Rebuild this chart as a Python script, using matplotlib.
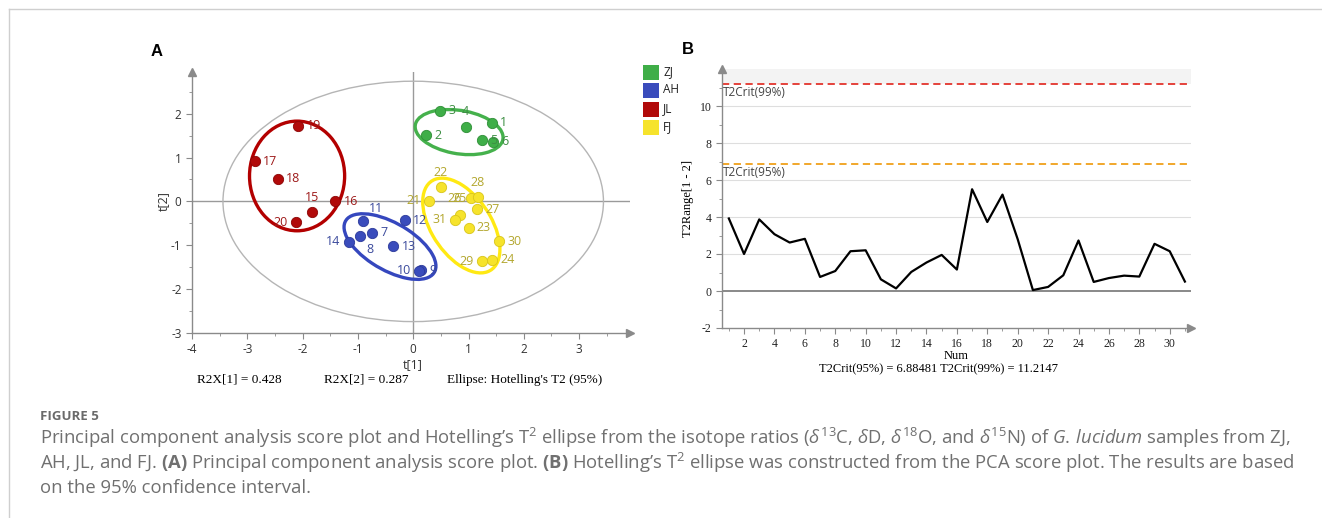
import matplotlib
matplotlib.use("Agg")
import numpy as np
import matplotlib.pyplot as plt
from matplotlib.patches import Ellipse, Rectangle
from matplotlib.lines import Line2D

# ---- data: panel A (PCA scores) ----
sample_id = list(range(1, 32))
t1 = [1.42, 0.24, 0.49, 0.95, 1.25, 1.45,
      -0.74, -0.96, 0.14, 0.11, -0.90, -0.15, -0.36, -1.16,
      -1.83, -1.41, -2.86, -2.45, -2.08, -2.12,
      0.29, 0.50, 1.00, 1.42, 1.04, 0.85, 1.15, 1.17, 1.24, 1.55, 0.75]
t2 = [1.79, 1.51, 2.07, 1.70, 1.39, 1.36,
      -0.72, -0.79, -1.57, -1.58, -0.45, -0.43, -1.02, -0.92,
      -0.25, 0.00, 0.91, 0.52, 1.73, -0.48,
      0.02, 0.32, -0.60, -1.33, 0.07, -0.30, -0.18, 0.09, -1.36, -0.91, -0.42]
group = ['ZJ'] * 6 + ['AH'] * 8 + ['JL'] * 6 + ['FJ'] * 11
groups = ['ZJ', 'AH', 'JL', 'FJ']

# group ellipses: centre x, centre y, width, height, angle
ell_cx = [0.83, -0.42, -2.10, 0.87]
ell_cy = [1.58, -1.03, 0.58, -0.55]
ell_w = [1.62, 2.0, 1.72, 2.31]
ell_h = [0.98, 1.0, 2.5, 1.13]
ell_ang = [-14, -40, 0, -66]

# Hotelling T2 (95%) ellipse of the score plot
t2_ell_w = 6.88
t2_ell_h = 5.48

r2x = [0.428, 0.287]

# ---- data: panel B (Hotelling T2 range) ----
num = list(range(1, 32))
t2range = [3.92, 2.00, 3.87, 3.07, 2.62, 2.82, 0.76, 1.08, 2.15, 2.20,
           0.63, 0.14, 1.03, 1.54, 1.95, 1.16, 5.50, 3.73, 5.21, 2.80,
           0.05, 0.22, 0.85, 2.73, 0.49, 0.70, 0.83, 0.78, 2.55, 2.15, 0.51]
t2crit95 = 6.88481
t2crit99 = 11.2147

# ---- styles ----
dot_col = {'ZJ': '#3fae48', 'AH': '#3a4cbc', 'JL': '#b10a0a', 'FJ': '#f6e32c'}
edge_col = {'ZJ': '#2f8f37', 'AH': '#2c3a9a', 'JL': '#8c0505', 'FJ': '#d9c51a'}
txt_col = {'ZJ': '#3d8e43', 'AH': '#3b4a9c', 'JL': '#9e1a1a', 'FJ': '#b3a72e'}
ring_col = {'ZJ': '#45b14c', 'AH': '#3547be', 'JL': '#b30000', 'FJ': '#ffe913'}
lab_off = {4: (0, 11, 'center'), 8: (7, -10, 'center'), 10: (-6, 0, 'right'),
           11: (9, 9, 'center'), 14: (-6, 0, 'right'), 15: (0, 11, 'center'),
           20: (-6, 0, 'right'), 21: (-6, 0, 'right'), 22: (0, 11, 'center'),
           25: (-8, 0, 'center'), 26: (-4, 11.5, 'center'), 28: (0, 11, 'center'),
           29: (-6, 0, 'right'), 31: (-6, 0, 'right')}

SANS = ['Open Sans', 'DejaVu Sans']
SERIF = ['Liberation Serif', 'DejaVu Serif']
AX_GREY = '#8a8a8a'

plt.rcParams['axes.unicode_minus'] = False
plt.rcParams['mathtext.fontset'] = 'custom'
plt.rcParams['mathtext.rm'] = 'Open Sans'
plt.rcParams['mathtext.it'] = 'Open Sans:italic'
plt.rcParams['mathtext.bf'] = 'Open Sans:bold'

W, H = 1322, 518
fig = plt.figure(figsize=(W / 100, H / 100), dpi=100)


def fx(px):
    return px / W


def fy(py):
    return 1 - py / H


def arrow_axes(ax):
    for s in ['top', 'right']:
        ax.spines[s].set_visible(False)
    for s in ['left', 'bottom']:
        ax.spines[s].set_color(AX_GREY)
        ax.spines[s].set_linewidth(1.0)
    ax.plot(1, 0, '>', color=AX_GREY, ms=6, transform=ax.transAxes, clip_on=False)
    ax.plot(0, 1, '^', color=AX_GREY, ms=6, transform=ax.transAxes, clip_on=False)
    ax.tick_params(which='both', color=AX_GREY, direction='out')
    ax.tick_params(which='major', length=4)
    ax.tick_params(which='minor', length=2)


# frame lines of the page
fig.add_artist(Line2D([fx(9), 1], [fy(9), fy(9)], color='#cfcfcf', lw=1))
fig.add_artist(Line2D([fx(9), fx(9)], [fy(9), 0], color='#cfcfcf', lw=1))

# ================= panel A =================
axA = fig.add_axes([fx(192), fy(333), fx(630) - fx(192), fy(72) - fy(333)])
arrow_axes(axA)
axA.set_xlim(-4, 3.92)
axA.set_ylim(-3, 2.95)
axA.set_xticks(range(-4, 4))
axA.set_yticks(range(-3, 3))
axA.set_xticks(np.arange(-4, 4, 0.5), minor=True)
axA.set_yticks(np.arange(-3, 3, 0.5), minor=True)
axA.tick_params(labelsize=8.5, labelcolor='#333333')
for lab in axA.get_xticklabels() + axA.get_yticklabels():
    lab.set_family(SANS)
axA.axhline(0, color='#9a9a9a', lw=1, zorder=1)
axA.axvline(0, color='#9a9a9a', lw=1, zorder=1)

axA.add_patch(Ellipse((0, 0), t2_ell_w, t2_ell_h, fill=False, ec='#b5b5b5', lw=1, zorder=1))
for i, g in enumerate(groups):
    axA.add_patch(Ellipse((ell_cx[i], ell_cy[i]), ell_w[i], ell_h[i], angle=ell_ang[i],
                          fill=False, ec=ring_col[g], lw=2.4, zorder=2))

for g in groups:
    idx = [k for k in range(len(sample_id)) if group[k] == g]
    axA.scatter([t1[k] for k in idx], [t2[k] for k in idx], s=55, color=dot_col[g],
                edgecolor=edge_col[g], lw=0.6, zorder=3)
for k, sid in enumerate(sample_id):
    dx, dy, ha = lab_off.get(sid, (6, 0, 'left'))
    axA.annotate(str(sid), (t1[k], t2[k]), xytext=(dx, dy), textcoords='offset points',
                 ha=ha, va='center', fontsize=9, color=txt_col[group[k]],
                 family=SANS, zorder=4)

fig.text(fx(413), fy(365), 't[1]', ha='center', va='center', fontsize=9,
         family=SANS, color='#333333')
fig.text(fx(163), fy(201), 't[2]', ha='center', va='center', rotation=90, fontsize=9,
         family=SANS, color='#333333')
fig.text(fx(239), fy(380), 'R2X[1] = %.3f' % r2x[0], ha='center', va='center',
         fontsize=9.5, family=SERIF)
fig.text(fx(366), fy(380), 'R2X[2] = %.3f' % r2x[1], ha='center', va='center',
         fontsize=9.5, family=SERIF)
fig.text(fx(525), fy(380), "Ellipse: Hotelling's T2 (95%)", ha='center', va='center',
         fontsize=9.5, family=SERIF)
fig.text(fx(157), fy(52), 'A', ha='center', va='center', fontsize=12,
         fontweight='bold', family=['Liberation Sans', 'DejaVu Sans'])

# legend
for i, g in enumerate(groups):
    yc = 72.5 + 18.3 * i
    fig.add_artist(Rectangle((fx(643), fy(yc + 7.5)), fx(16), 15 / H,
                             transform=fig.transFigure, color=dot_col[g], lw=0))
    fig.text(fx(663), fy(yc - 1), g, ha='left', va='center', fontsize=8.5,
             family=SANS, color='#222222')

# ================= panel B =================
axB = fig.add_axes([fx(722), fy(328), fx(1191) - fx(722), fy(69) - fy(328)])
arrow_axes(axB)
axB.set_xlim(0.55, 31.4)
axB.set_ylim(-2, 12.0)
axB.set_xticks(range(2, 31, 2))
axB.set_xticks(range(1, 32), minor=True)
axB.set_yticks(range(-2, 11, 2))
axB.set_yticks(range(-2, 12), minor=True)
axB.tick_params(labelsize=8.5, labelcolor='#222222')
for lab in axB.get_xticklabels() + axB.get_yticklabels():
    lab.set_family(SERIF)
axB.axhspan(t2crit99, 12.0, color='#f3f3f3', lw=0, zorder=0)
for yv in range(2, 11, 2):
    axB.axhline(yv, color='#dedede', lw=0.8, zorder=1)
axB.axhline(0, color='#808080', lw=1.3, zorder=1)
axB.axhline(t2crit99, color='#e3342c', lw=1.3, ls=(0, (4, 2.5)), zorder=2)
axB.axhline(t2crit95, color='#f0a01a', lw=1.3, ls=(0, (4, 2.5)), zorder=2)
axB.text(0.62, t2crit99 - 0.15, 'T2Crit(99%)', ha='left', va='top', fontsize=8.5,
         family=SANS, color='#444444')
axB.text(0.62, t2crit95 - 0.15, 'T2Crit(95%)', ha='left', va='top', fontsize=8.5,
         family=SANS, color='#444444')
axB.plot(num, t2range, color='black', lw=1.6, zorder=3)

axB.set_xlabel('Num', family=SERIF, fontsize=9, labelpad=0)
axB.set_ylabel('T2Range[1 - 2]', family=SERIF, fontsize=9, labelpad=4)
fig.text(fx(938), fy(369), 'T2Crit(95%%) = %.5f T2Crit(99%%) = %.4f' % (t2crit95, t2crit99),
         ha='center', va='center', fontsize=9, family=SERIF)
fig.text(fx(688), fy(50), 'B', ha='center', va='center', fontsize=12,
         fontweight='bold', family=['Liberation Sans', 'DejaVu Sans'])

# ================= caption =================
cap_col = '#707070'
fig.text(fx(40), fy(417), 'FIGURE 5', ha='left', va='center', fontsize=9.5,
         fontweight='bold', family=SANS, color='#6a6a6a')
cap_lines = [
    r"Principal component analysis score plot and Hotelling’s T$^2$ ellipse from the isotope "
    r"ratios ($\delta^{13}$C, $\delta$D, $\delta^{18}$O, and $\delta^{15}$N) of "
    r"$\mathit{G.\,lucidum}$ samples from ZJ,",
    r"AH, JL, and FJ. $\mathbf{(A)}$ Principal component analysis score plot. $\mathbf{(B)}$ "
    r"Hotelling’s T$^2$ ellipse was constructed from the PCA score plot. The results are based",
    "on the 95% confidence interval.",
]
cap_txt = []
for i, line in enumerate(cap_lines):
    cap_txt.append(fig.text(fx(40), fy(438 + 25 * i), line, ha='left', va='center',
                            fontsize=11.5, family=SANS, color=cap_col))
# the caption font in the reference is wide: scale the size so line 2 spans ~1255 px
r = fig.canvas.get_renderer()
wid = cap_txt[1].get_window_extent(renderer=r).width
size = 11.5 * 1255 / wid
for t in cap_txt:
    t.set_fontsize(size)

fig.savefig('out.png', dpi=100)
